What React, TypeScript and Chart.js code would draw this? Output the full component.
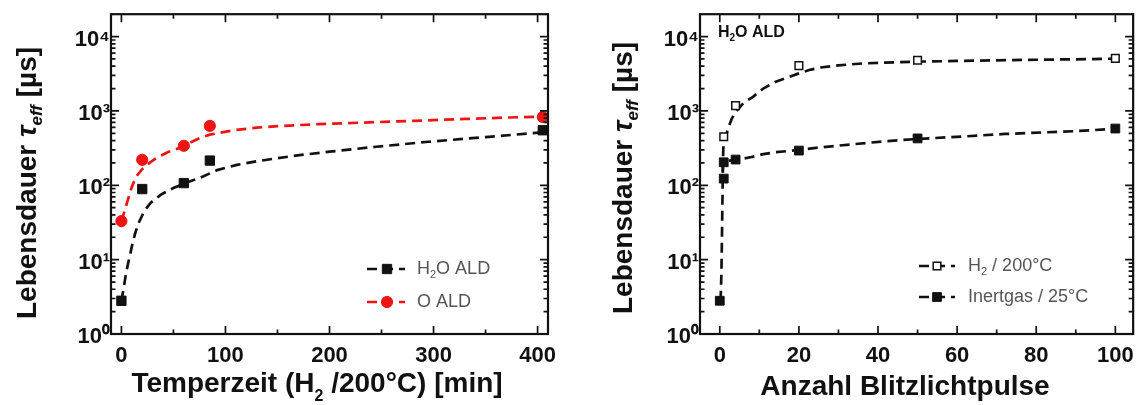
import React, { useEffect, useRef } from 'react';
import { Chart, registerables } from 'chart.js';

Chart.register(...registerables);

// ---------- Left panel: Temperzeit ----------
const tempTimeH2O = [0, 20, 60, 85, 405];
const lifetimeH2O = [2.8, 89, 107, 215, 550];
const tempTimeO = [0, 20, 60, 85, 405];
const lifetimeO = [33, 220, 340, 630, 830];

const fitTimeH2O = [0, 2, 4.4, 6.5, 8, 10, 13, 16, 22, 28, 38, 50, 62, 75, 92, 111, 130, 150, 175, 200, 245, 295, 350, 405];
const fitLifeH2O = [2.8, 4, 6.5, 9, 11, 15, 22, 30, 45, 58, 75, 92, 108, 125, 160, 188, 210, 232, 258, 283, 330, 385, 445, 515];
const fitTimeO = [0, 3, 6, 10, 14, 20, 28, 35, 45, 55, 65, 75, 85, 95, 110, 130, 150, 190, 230, 280, 330, 370, 405];
const fitLifeO = [33, 45, 62, 95, 130, 165, 205, 240, 280, 315, 370, 430, 480, 510, 555, 595, 625, 665, 695, 735, 780, 815, 840];

const leftXTickValues = [0, 100, 200, 300, 400];
const leftXTickLabels = ['0', '100', '200', '300', '400'];

// ---------- Right panel: Blitzlichtpulse ----------
const pulsesH2 = [1, 4, 20, 50, 100];
const lifetimeH2 = [450, 1180, 4070, 4800, 5100];
const pulsesInert = [0, 1, 1, 4, 20, 50, 100];
const lifetimeInert = [2.8, 123, 204, 222, 293, 427, 580];

const fitPulsesH2 = [0.75, 0.9, 1.3, 2, 3, 4, 6, 8.4, 11, 14, 17, 20, 23, 26, 30, 36, 44, 50, 60, 70, 80, 90, 100];
const fitLifeH2 = [150, 320, 400, 560, 780, 970, 1280, 1550, 2000, 2450, 2800, 3200, 3600, 3870, 4100, 4350, 4500, 4600, 4700, 4800, 4880, 4950, 5050];
const fitPulsesInert = [0.2, 0.4, 0.55, 0.7, 0.8, 1, 1.5, 2.5, 4, 6, 8, 11, 14, 20, 25, 30, 35, 42, 50, 62, 72, 82, 90, 100];
const fitLifeInert = [2.8, 6, 20, 80, 180, 205, 210, 215, 220, 228, 240, 262, 278, 298, 322, 342, 362, 392, 420, 455, 490, 515, 535, 575];

const rightXTickValues = [0, 20, 40, 60, 80, 100];
const rightXTickLabels = ['0', '20', '40', '60', '80', '100'];

// ---------- Shared y axis ----------
const yTickValues = [1, 10, 100, 1000, 10000];
const yTickLabels = ['10⁰', '10¹', '10²', '10³', '10⁴'];

const FAMILY = '"Liberation Sans", Arial, Helvetica, sans-serif';
const RED = '#ee1414';
const BLACK = '#111111';

const pts = (xs: number[], ys: number[]) => xs.map((x, i) => ({ x, y: ys[i] }));

const labelFor = (values: number[], labels: string[]) => (v: number) => {
  const i = values.findIndex((t) => Math.abs(t - v) < 1e-6 * Math.max(1, Math.abs(t)));
  return i >= 0 ? labels[i] : '';
};

type Run = { t: string; font: string; dy?: number };

function drawRuns(ctx: CanvasRenderingContext2D, runs: Run[], x: number, y: number, align: string) {
  let w = 0;
  runs.forEach((r) => {
    ctx.font = r.font;
    w += ctx.measureText(r.t).width;
  });
  let cx = align === 'center' ? x - w / 2 : x;
  runs.forEach((r) => {
    ctx.font = r.font;
    ctx.fillText(r.t, cx, y + (r.dy || 0));
    cx += ctx.measureText(r.t).width;
  });
}

const richTextPlugin = {
  id: 'richText',
  afterDraw(chart: any, _args: any, opts: any) {
    const ctx: CanvasRenderingContext2D = chart.ctx;
    (opts.items || []).forEach((it: any) => {
      ctx.save();
      ctx.fillStyle = it.color || BLACK;
      ctx.textBaseline = 'alphabetic';
      ctx.textAlign = 'left';
      ctx.translate(it.x, it.y);
      if (it.rotate) ctx.rotate(it.rotate);
      drawRuns(ctx, it.runs, 0, 0, it.align || 'left');
      ctx.restore();
    });
  },
};

function drawMarker(ctx: CanvasRenderingContext2D, ds: any, x: number, y: number) {
  const r = ds.pointRadius;
  ctx.save();
  ctx.fillStyle = ds.pointBackgroundColor;
  ctx.strokeStyle = ds.pointBorderColor;
  ctx.lineWidth = ds.pointBorderWidth;
  ctx.setLineDash([]);
  ctx.beginPath();
  if (ds.pointStyle === 'circle') {
    ctx.arc(x, y, r, 0, Math.PI * 2);
  } else {
    const s = Math.SQRT1_2 * r;
    ctx.rect(x - s, y - s, 2 * s, 2 * s);
  }
  ctx.fill();
  ctx.stroke();
  ctx.restore();
}

const lineLegendPlugin = {
  id: 'lineLegend',
  afterDraw(chart: any, _args: any, opts: any) {
    const ctx: CanvasRenderingContext2D = chart.ctx;
    (opts.items || []).forEach((it: any) => {
      const lineDs = chart.data.datasets[it.line];
      const markDs = chart.data.datasets[it.marker];
      ctx.save();
      ctx.strokeStyle = lineDs.borderColor;
      ctx.lineWidth = lineDs.borderWidth;
      ctx.setLineDash(lineDs.borderDash || []);
      ctx.beginPath();
      ctx.moveTo(opts.x0, it.y);
      ctx.lineTo(opts.x1, it.y);
      ctx.stroke();
      ctx.restore();
      drawMarker(ctx, markDs, opts.xm, it.y);
      ctx.save();
      ctx.fillStyle = opts.color;
      ctx.textBaseline = 'middle';
      drawRuns(ctx, it.runs, opts.xt, it.y, 'left');
      ctx.restore();
    });
  },
};

const isLogStep = (v: number) => {
  if (v <= 0) return false;
  const m = v / Math.pow(10, Math.floor(Math.log10(v) + 1e-9));
  return Math.abs(m - Math.round(m)) < 1e-6;
};

const frameTicksPlugin = {
  id: 'frameTicks',
  afterDraw(chart: any) {
    const ctx: CanvasRenderingContext2D = chart.ctx;
    const a = chart.chartArea;
    const xs = chart.scales.x;
    const ys = chart.scales.y;
    ctx.save();
    ctx.strokeStyle = BLACK;
    ctx.lineWidth = 1.7;
    ctx.setLineDash([]);
    ctx.beginPath();
    xs.ticks.forEach((t: any) => {
      const px = xs.getPixelForValue(t.value);
      if (px < a.left - 0.5 || px > a.right + 0.5) return;
      const len = t.label ? 8 : 4.5;
      ctx.moveTo(px, a.bottom);
      ctx.lineTo(px, a.bottom - len);
      ctx.moveTo(px, a.top);
      ctx.lineTo(px, a.top + len);
    });
    ys.ticks.forEach((t: any) => {
      if (!isLogStep(t.value)) return;
      const py = ys.getPixelForValue(t.value);
      if (py < a.top + 1 || py > a.bottom + 0.5) return;
      const len = t.label ? 8 : 4.5;
      ctx.moveTo(a.left, py);
      ctx.lineTo(a.left + len, py);
      ctx.moveTo(a.right, py);
      ctx.lineTo(a.right - len, py);
    });
    ctx.stroke();
    ctx.lineWidth = 2.2;
    ctx.strokeRect(a.left, a.top, a.right - a.left, a.bottom - a.top);
    ctx.restore();
  },
};

const markerDs = (label: string, data: any[], style: string, r: number, fill: string, border: string, bw: number) => ({
  label,
  data,
  showLine: false,
  pointStyle: style,
  pointRadius: r,
  pointBackgroundColor: fill,
  pointBorderColor: border,
  pointBorderWidth: bw,
  backgroundColor: fill,
  borderColor: border,
});

const fitDs = (label: string, data: any[], color: string) => ({
  label,
  data,
  showLine: true,
  pointRadius: 0,
  borderColor: color,
  borderWidth: 2.7,
  borderDash: [10, 6],
  tension: 0,
  fill: false,
});

function baseOptions(xMin: number, xMax: number, step: number, xVals: number[], xLabs: string[], yWidth: number, padRight: number) {
  return {
    animation: false,
    responsive: false,
    maintainAspectRatio: false,
    layout: { padding: { left: 0, top: 11, right: padRight, bottom: 0 } },
    scales: {
      x: {
        type: 'linear',
        min: xMin,
        max: xMax,
        border: { display: false },
        grid: { display: false, drawTicks: false },
        ticks: {
          stepSize: step,
          includeBounds: false,
          autoSkip: false,
          maxRotation: 0,
          padding: 9,
          color: BLACK,
          font: { family: FAMILY, size: 22, weight: 'bold' },
          callback: labelFor(xVals, xLabs),
        },
        afterFit: (s: any) => {
          s.height = 71;
        },
      },
      y: {
        type: 'logarithmic',
        min: 1,
        max: 20000,
        border: { display: false },
        grid: { display: false, drawTicks: false },
        ticks: {
          autoSkip: false,
          padding: 1,
          labelOffset: 3,
          color: BLACK,
          font: { family: FAMILY, size: 22, weight: 'bold' },
          callback: labelFor(yTickValues, yTickLabels),
        },
        afterFit: (s: any) => {
          s.width = yWidth;
        },
      },
    },
  };
}

const TITLE_FONT = `bold 28px ${FAMILY}`;
const TITLE_IT = `italic bold 28px ${FAMILY}`;
const SUB_IT = `italic bold 17px ${FAMILY}`;
const SUB_B = `bold 16px ${FAMILY}`;
const LEG_FONT = `18px ${FAMILY}`;
const LEG_SUB = `11px ${FAMILY}`;

const yTitleRuns: Run[] = [
  { t: 'Lebensdauer ', font: TITLE_FONT },
  { t: 'τ', font: TITLE_IT },
  { t: 'eff', font: SUB_IT, dy: 6 },
  { t: ' [µs]', font: TITLE_FONT },
];

function LeftChart() {
  const ref = useRef<HTMLCanvasElement>(null);
  useEffect(() => {
    if (!ref.current) return;
    const opts: any = baseOptions(-10, 410, 50, leftXTickValues, leftXTickLabels, 111, 32);
    opts.plugins = {
      legend: { display: false },
      tooltip: { enabled: false },
      richText: {
        items: [
          { x: 36, y: 183, rotate: -Math.PI / 2, align: 'center', runs: yTitleRuns },
          {
            x: 317,
            y: 392,
            align: 'center',
            runs: [
              { t: 'Temperzeit (H', font: TITLE_FONT },
              { t: '2', font: SUB_B, dy: 9 },
              { t: ' /200°C) [min]', font: TITLE_FONT },
            ],
          },
        ],
      },
      lineLegend: {
        x0: 367,
        x1: 405,
        xm: 387,
        xt: 417,
        color: '#555555',
        items: [
          {
            line: 2,
            marker: 0,
            y: 269,
            runs: [
              { t: 'H', font: LEG_FONT },
              { t: '2', font: LEG_SUB, dy: 6 },
              { t: 'O ALD', font: LEG_FONT },
            ],
          },
          { line: 3, marker: 1, y: 302, runs: [{ t: 'O ALD', font: LEG_FONT }] },
        ],
      },
    };
    const chart = new Chart(ref.current, {
      type: 'scatter',
      data: {
        datasets: [
          markerDs('H2O ALD', pts(tempTimeH2O, lifetimeH2O), 'rect', 6.6, BLACK, BLACK, 1),
          markerDs('O ALD', pts(tempTimeO, lifetimeO), 'circle', 5.6, RED, RED, 1),
          fitDs('H2O ALD Fit', pts(fitTimeH2O, fitLifeH2O), BLACK),
          fitDs('O ALD Fit', pts(fitTimeO, fitLifeO), RED),
        ],
      },
      options: opts,
      plugins: [frameTicksPlugin, richTextPlugin, lineLegendPlugin],
    } as any);
    return () => chart.destroy();
  }, []);
  return (
    <canvas
      ref={ref}
      width={580}
      height={405}
      style={{ position: 'absolute', left: 0, top: 0, width: 580, height: 405 }}
    />
  );
}

function RightChart() {
  const ref = useRef<HTMLCanvasElement>(null);
  useEffect(() => {
    if (!ref.current) return;
    const opts: any = baseOptions(-5, 104.5, 10, rightXTickValues, rightXTickLabels, 120, 6);
    const L = 580;
    opts.plugins = {
      legend: { display: false },
      tooltip: { enabled: false },
      richText: {
        items: [
          { x: 632 - L, y: 178, rotate: -Math.PI / 2, align: 'center', runs: yTitleRuns },
          {
            x: 905 - L,
            y: 395,
            align: 'center',
            runs: [{ t: 'Anzahl Blitzlichtpulse', font: TITLE_FONT }],
          },
          {
            x: 718 - L,
            y: 37,
            align: 'left',
            runs: [
              { t: 'H', font: `bold 16px ${FAMILY}` },
              { t: '2', font: `bold 10px ${FAMILY}`, dy: 4 },
              { t: 'O ALD', font: `bold 16px ${FAMILY}` },
            ],
          },
        ],
      },
      lineLegend: {
        x0: 919 - L,
        x1: 955 - L,
        xm: 937 - L,
        xt: 968 - L,
        color: '#555555',
        items: [
          {
            line: 2,
            marker: 0,
            y: 266,
            runs: [
              { t: 'H', font: LEG_FONT },
              { t: '2', font: LEG_SUB, dy: 6 },
              { t: ' / 200°C', font: LEG_FONT },
            ],
          },
          { line: 3, marker: 1, y: 297, runs: [{ t: 'Inertgas / 25°C', font: LEG_FONT }] },
        ],
      },
    };
    const chart = new Chart(ref.current, {
      type: 'scatter',
      data: {
        datasets: [
          markerDs('H2 / 200°C', pts(pulsesH2, lifetimeH2), 'rect', 5.4, '#ffffff', BLACK, 1.5),
          markerDs('Inertgas / 25°C', pts(pulsesInert, lifetimeInert), 'rect', 6.2, BLACK, BLACK, 1),
          fitDs('H2 Fit', pts(fitPulsesH2, fitLifeH2), BLACK),
          fitDs('Inertgas Fit', pts(fitPulsesInert, fitLifeInert), BLACK),
        ],
      },
      options: opts,
      plugins: [frameTicksPlugin, richTextPlugin, lineLegendPlugin],
    } as any);
    return () => chart.destroy();
  }, []);
  return (
    <canvas
      ref={ref}
      width={563}
      height={405}
      style={{ position: 'absolute', left: 580, top: 0, width: 563, height: 405 }}
    />
  );
}

export default function App() {
  return (
    <div
      style={{
        position: 'absolute',
        left: 0,
        top: 0,
        width: 1143,
        height: 405,
        background: '#ffffff',
        overflow: 'hidden',
      }}
    >
      <LeftChart />
      <RightChart />
    </div>
  );
}
